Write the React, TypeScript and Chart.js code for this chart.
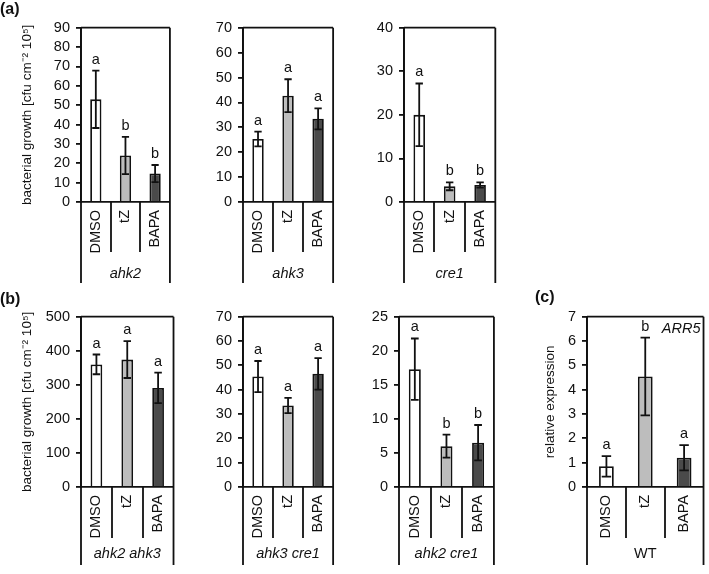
import React, { useEffect, useRef } from "react";
import { Chart, registerables } from "chart.js";

Chart.register(...registerables);

// ---------- data ----------
const treatments = ["DMSO", "tZ", "BAPA"];

const ahk2Mean = [53, 24, 14.7];
const ahk2Err = [14.8, 9.6, 4.4];
const ahk2Letters = ["a", "b", "b"];

const ahk3Mean = [25.3, 42.7, 33.4];
const ahk3Err = [3.0, 6.6, 4.2];
const ahk3Letters = ["a", "a", "a"];

const cre1Mean = [20.0, 3.6, 3.9];
const cre1Err = [7.2, 0.9, 0.6];
const cre1Letters = ["a", "b", "b"];

const ahk2ahk3Mean = [360, 374, 291];
const ahk2ahk3Err = [29, 54, 45];
const ahk2ahk3Letters = ["a", "a", "a"];

const ahk3cre1Mean = [45.4, 33.5, 46.5];
const ahk3cre1Err = [6.4, 3.1, 6.5];
const ahk3cre1Letters = ["a", "a", "a"];

const ahk2cre1Mean = [17.3, 6.0, 6.5];
const ahk2cre1Err = [4.5, 1.7, 2.6];
const ahk2cre1Letters = ["a", "b", "b"];

const arr5Mean = [0.85, 4.54, 1.2];
const arr5Err = [0.42, 1.6, 0.52];
const arr5Letters = ["a", "b", "a"];

const growthTitle = "bacterial growth [cfu cm\u207B\u00B2 10\u2075]";
const expressionTitle = "relative expression";

// ---------- styles / layout ----------
const FONT = "'Liberation Sans', Arial, Helvetica, sans-serif";
const INK = "#111111";
const BAR_FILL = ["#ffffff", "#bdbdbd", "#4a4a4a"];
const FS = 14.5;
const TITLE_FS = 13.5;
const LW = 1.8;

const rows = [
  { plotTop: 23, zero: 202, boxDrop: 81, sepDrop: 50, labelBase: 76 },
  { plotTop: 312, zero: 487, boxDrop: 78, sepDrop: 51, labelBase: 71 },
];

type Spec = {
  group: string;
  italic: boolean;
  mean: number[];
  err: number[];
  letters: string[];
  yMax: number;
  yStep: number;
  yTitle?: string;
  titleW?: number;
  note?: string;
  row: number;
  left: number;
  right: number;
};

const panels: Spec[] = [
  { group: "ahk2", italic: true, mean: ahk2Mean, err: ahk2Err, letters: ahk2Letters, yMax: 90, yStep: 10, yTitle: growthTitle, titleW: 62, row: 0, left: 81, right: 178 },
  { group: "ahk3", italic: true, mean: ahk3Mean, err: ahk3Err, letters: ahk3Letters, yMax: 70, yStep: 10, row: 0, left: 243, right: 341 },
  { group: "cre1", italic: true, mean: cre1Mean, err: cre1Err, letters: cre1Letters, yMax: 40, yStep: 10, row: 0, left: 404, right: 503 },
  { group: "ahk2 ahk3", italic: true, mean: ahk2ahk3Mean, err: ahk2ahk3Err, letters: ahk2ahk3Letters, yMax: 500, yStep: 100, yTitle: growthTitle, titleW: 62, row: 1, left: 81, right: 181 },
  { group: "ahk3 cre1", italic: true, mean: ahk3cre1Mean, err: ahk3cre1Err, letters: ahk3cre1Letters, yMax: 70, yStep: 10, row: 1, left: 243, right: 341 },
  { group: "ahk2 cre1", italic: true, mean: ahk2cre1Mean, err: ahk2cre1Err, letters: ahk2cre1Letters, yMax: 25, yStep: 5, row: 1, left: 399, right: 501 },
  { group: "WT", italic: false, mean: arr5Mean, err: arr5Err, letters: arr5Letters, yMax: 7, yStep: 1, yTitle: expressionTitle, titleW: 45, note: "ARR5", row: 1, left: 587, right: 707 },
];

const PAD_TOP = 10;
const PAD_RIGHT = 3;

function Panel({ spec }: { spec: Spec }) {
  const ref = useRef<HTMLCanvasElement | null>(null);
  const row = rows[spec.row];
  const W = spec.titleW ?? 40;
  const canvasLeft = spec.left - W;
  const canvasTop = row.plotTop - PAD_TOP;
  const H = row.boxDrop + 2;
  const width = W + (spec.right - spec.left) + PAD_RIGHT;
  const height = PAD_TOP + (row.zero - row.plotTop) + H;

  useEffect(() => {
    const canvas = ref.current;
    if (!canvas) return;

    const overlay = {
      id: "overlay",
      afterDatasetsDraw(chart: any) {
        const { ctx, chartArea } = chart;
        const xs = chart.scales.x;
        const ys = chart.scales.y;
        const meta = chart.getDatasetMeta(0);
        ctx.save();
        ctx.strokeStyle = INK;
        ctx.lineWidth = LW;
        ctx.lineCap = "butt";
        const boxBottom = chartArea.bottom + row.boxDrop;
        ctx.beginPath();
        ctx.moveTo(chartArea.left, chartArea.top);
        ctx.lineTo(chartArea.right, chartArea.top);
        ctx.moveTo(chartArea.right, chartArea.top);
        ctx.lineTo(chartArea.right, boxBottom);
        ctx.moveTo(chartArea.left, chartArea.top);
        ctx.lineTo(chartArea.left, boxBottom);
        for (let i = 1; i < treatments.length; i++) {
          const bx = Math.round((xs.getPixelForValue(i - 1) + xs.getPixelForValue(i)) / 2);
          ctx.moveTo(bx, chartArea.bottom);
          ctx.lineTo(bx, chartArea.bottom + row.sepDrop);
        }
        ctx.stroke();

        ctx.fillStyle = INK;
        ctx.textAlign = "center";
        ctx.textBaseline = "alphabetic";
        ctx.font = `${FS}px ${FONT}`;
        spec.mean.forEach((m, i) => {
          const cx = xs.getPixelForValue(i);
          const bw = meta.data[i].width;
          const yt = ys.getPixelForValue(m + spec.err[i]);
          const yb = ys.getPixelForValue(m - spec.err[i]);
          const cap = bw * 0.32;
          ctx.beginPath();
          ctx.moveTo(cx, yt);
          ctx.lineTo(cx, yb);
          ctx.moveTo(cx - cap, yt);
          ctx.lineTo(cx + cap, yt);
          ctx.moveTo(cx - cap, yb);
          ctx.lineTo(cx + cap, yb);
          ctx.stroke();
          ctx.fillText(spec.letters[i], cx, yt - 7);
        });

        ctx.font = `${spec.italic ? "italic " : ""}${FS}px ${FONT}`;
        ctx.fillText(spec.group, (chartArea.left + chartArea.right) / 2, chartArea.bottom + row.labelBase);

        if (spec.note) {
          ctx.textAlign = "right";
          ctx.font = `italic ${FS}px ${FONT}`;
          ctx.fillText(spec.note, chartArea.right - 3, chartArea.top + 16);
        }
        ctx.restore();
      },
    };

    const chart = new Chart(canvas, {
      type: "bar",
      data: {
        labels: treatments,
        datasets: [
          {
            data: spec.mean,
            backgroundColor: BAR_FILL,
            borderColor: INK,
            borderWidth: LW,
            barPercentage: 0.38,
            categoryPercentage: 1,
          },
        ],
      },
      options: {
        responsive: false,
        animation: false,
        devicePixelRatio: 1,
        layout: { padding: { top: PAD_TOP, right: PAD_RIGHT, left: 0, bottom: 0 } },
        plugins: { legend: { display: false }, tooltip: { enabled: false } },
        scales: {
          x: {
            grid: { display: false, drawTicks: false },
            border: { display: true, color: INK, width: LW },
            ticks: {
              autoSkip: false,
              minRotation: 90,
              maxRotation: 90,
              padding: 8,
              color: INK,
              font: { family: FONT, size: FS },
            },
            afterFit: (s: any) => {
              s.height = H;
            },
          },
          y: {
            min: 0,
            max: spec.yMax,
            ticks: {
              autoSkip: false,
              stepSize: spec.yStep,
              padding: 6,
              color: INK,
              font: { family: FONT, size: FS },
            },
            grid: { drawOnChartArea: false, drawTicks: true, tickLength: 5, color: INK, lineWidth: LW },
            border: { display: true, color: INK, width: LW },
            title: spec.yTitle
              ? { display: true, text: spec.yTitle, color: INK, padding: 0, font: { family: FONT, size: TITLE_FS } }
              : { display: false },
            afterFit: (s: any) => {
              s.width = W;
            },
          },
        },
      } as any,
      plugins: [overlay],
    });
    return () => chart.destroy();
  }, []);

  return (
    <canvas
      ref={ref}
      width={width}
      height={height}
      style={{ position: "absolute", left: canvasLeft, top: canvasTop, width, height }}
    />
  );
}

const panelLetters = [
  { text: "(a)", x: 0, y: 0 },
  { text: "(b)", x: 0, y: 290 },
  { text: "(c)", x: 535, y: 288 },
];

export default function App() {
  return (
    <div style={{ position: "absolute", left: 0, top: 0, width: 709, height: 574, background: "#fff", overflow: "hidden" }}>
      {panels.map((p, i) => (
        <Panel key={i} spec={p} />
      ))}
      {panelLetters.map((l, i) => (
        <div
          key={i}
          style={{
            position: "absolute",
            left: l.x,
            top: l.y,
            fontFamily: FONT,
            fontWeight: "bold",
            fontSize: 16,
            lineHeight: "18px",
            color: INK,
          }}
        >
          {l.text}
        </div>
      ))}
    </div>
  );
}
